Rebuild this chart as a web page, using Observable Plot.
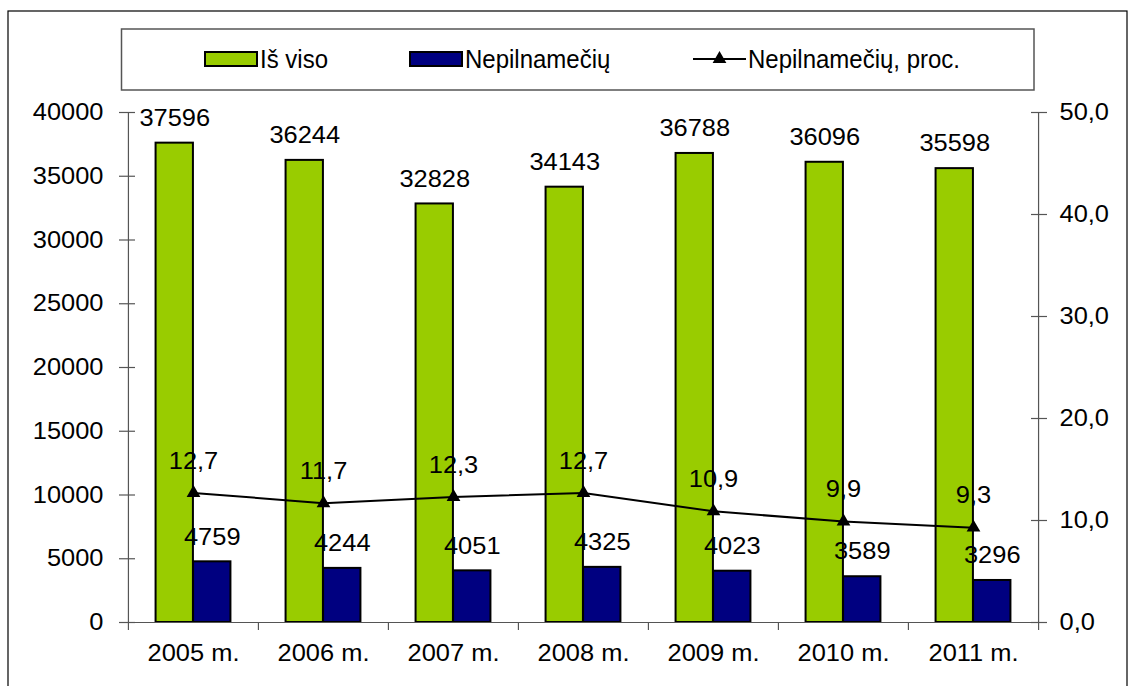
<!DOCTYPE html>
<html>
<head>
<meta charset="utf-8">
<script src="https://cdn.jsdelivr.net/npm/d3@7"></script>
<script src="https://cdn.jsdelivr.net/npm/@observablehq/plot@0.6"></script>
<style>
  body { margin: 0; background: #fff; }
  #chart svg { display: block; }
</style>
</head>
<body>
<div id="chart"></div>
<script>
// ---- data ----
const years = ["2005 m.", "2006 m.", "2007 m.", "2008 m.", "2009 m.", "2010 m.", "2011 m."];
const totals = [37596, 36244, 32828, 34143, 36788, 36096, 35598];
const minors = [4759, 4244, 4051, 4325, 4023, 3589, 3296];
const shares = [12.7, 11.7, 12.3, 12.7, 10.9, 9.9, 9.3];
const leftTicks = [0, 5000, 10000, 15000, 20000, 25000, 30000, 35000, 40000];
const rightTicks = [0, 10, 20, 30, 40, 50];
const seriesNames = ["Iš viso", "Nepilnamečių", "Nepilnamečių, proc."];
const seriesColors = ["#99cc00", "#000080", "#000000"];

const rows = years.map((year, i) => ({year, total: totals[i], minor: minors[i], share: shares[i]}));
const RATIO = 40000 / 50; // right axis (0–50) mapped onto left axis (0–40000)
const fmt1 = v => v.toFixed(1).replace(".", ",");

const W = 1136, H = 686, mL = 127, mR = 98, mT = 112, mB = 64;
const band = (W - mL - mR) / years.length;
const half = band / 2;
const barW = 37.5;
const FONT = "'Liberation Sans', Arial, sans-serif";
const axisColor = "#555";
const STRETCH = 1.06;
const TRI_R = 5.1;

const plot = Plot.plot({
  width: W, height: H,
  marginLeft: mL, marginRight: mR, marginTop: mT, marginBottom: mB,
  style: {fontFamily: FONT, fontSize: "24px", color: "black", background: "white", overflow: "visible"},
  x: {type: "band", domain: years, padding: 0, paddingInner: 0, paddingOuter: 0, axis: null, label: null},
  y: {domain: [0, 40000], axis: null, label: null},
  marks: [
    // axis lines
    Plot.ruleX([years[0]], {x: d => d, y1: 0, y2: 40000, dx: -half, stroke: axisColor, strokeWidth: 1.2}),
    Plot.ruleX([years[years.length - 1]], {x: d => d, y1: 0, y2: 40000, dx: half, stroke: axisColor, strokeWidth: 1.2}),
    // left axis ticks & labels
    Plot.axisY({ticks: leftTicks, tickSize: 16, dx: 8, text: null, label: null, stroke: axisColor, strokeWidth: 1.2}),
    Plot.axisY({ticks: leftTicks, tickSize: 0, tickPadding: 24, label: null, tickFormat: d => String(d), fontSize: 24, fill: "black"}),
    // right axis ticks & labels
    Plot.axisY({anchor: "right", ticks: rightTicks.map(v => v * RATIO), tickSize: 16, dx: -8, text: null, label: null, stroke: axisColor, strokeWidth: 1.2}),
    Plot.axisY({anchor: "right", ticks: rightTicks.map(v => v * RATIO), tickSize: 0, tickPadding: 21, label: null,
      tickFormat: d => fmt1(d / RATIO), fontSize: 24, fill: "black"}),
    // x axis ticks at band boundaries & labels
    Plot.axisX({ticks: years, tickSize: 8, dx: -half, text: null, label: null, stroke: axisColor, strokeWidth: 1.2}),
    Plot.axisX({ticks: [years[years.length - 1]], tickSize: 8, dx: half, text: null, label: null, stroke: axisColor, strokeWidth: 1.2}),
    Plot.axisX({ticks: years, tickSize: 0, tickPadding: 21, label: null, fontSize: 24, fill: "black"}),
    // bars
    Plot.barY(rows, {x: "year", y: "total", fill: seriesColors[0], stroke: "black", strokeWidth: 2,
      insetLeft: half - barW, insetRight: half}),
    Plot.barY(rows, {x: "year", y: "minor", fill: seriesColors[1], stroke: "black", strokeWidth: 2,
      insetLeft: half, insetRight: half - barW}),
    Plot.ruleY([0], {stroke: axisColor, strokeWidth: 1.2}),
    // percentage line
    Plot.lineY(rows, {x: "year", y: d => d.share * RATIO, stroke: seriesColors[2], strokeWidth: 2}),
    Plot.dot(rows, {x: "year", y: d => d.share * RATIO, symbol: "triangle", fill: "black", r: TRI_R}),
    // value labels
    Plot.text(rows, {x: "year", y: "total", text: d => String(d.total), dx: -(barW / 2), dy: -25, fontSize: 24, fill: "black"}),
    Plot.text(rows, {x: "year", y: "minor", text: d => String(d.minor), dx: barW / 2, dy: -25, fontSize: 24, fill: "black"}),
    Plot.text(rows, {x: "year", y: d => d.share * RATIO, text: d => fmt1(d.share), dy: -32, fontSize: 24, fill: "black"})
  ]
});

document.getElementById("chart").appendChild(plot);

// slight horizontal stretch of glyphs around their anchor, to match the reference's wide text
d3.select(plot).selectAll("text").each(function () {
  const t = this.getAttribute("transform");
  if (t) {
    this.setAttribute("transform", t + ` scale(${STRETCH},1)`);
  } else {
    const x = +(this.getAttribute("x") || 0), y = +(this.getAttribute("y") || 0);
    this.removeAttribute("x"); this.removeAttribute("y");
    this.setAttribute("transform", `translate(${x},${y}) scale(${STRETCH},1)`);
  }
});

// ---- frame & legend ----
const svg = d3.select(plot);
svg.append("rect").attr("x", 8).attr("y", 11).attr("width", 1119).attr("height", 690)
  .attr("fill", "none").attr("stroke", "black").attr("stroke-width", 1.2);
const lg = svg.append("g").attr("font-family", FONT).attr("font-size", 24).attr("text-anchor", "start");
lg.append("rect").attr("x", 121.5).attr("y", 29).attr("width", 912.5).attr("height", 61)
  .attr("fill", "white").attr("stroke", "#555").attr("stroke-width", 1.5);
const legendItems = [
  {kind: "rect", x: 205, tx: 260},
  {kind: "rect", x: 410, tx: 465},
  {kind: "line", x: 693, tx: 748}
];
const ly = 59;
legendItems.forEach((it, i) => {
  if (it.kind === "rect") {
    lg.append("rect").attr("x", it.x).attr("y", ly - 7).attr("width", 52).attr("height", 14)
      .attr("fill", seriesColors[i]).attr("stroke", "black").attr("stroke-width", 2);
  } else {
    lg.append("line").attr("x1", it.x).attr("x2", it.x + 53).attr("y1", ly).attr("y2", ly)
      .attr("stroke", "black").attr("stroke-width", 2);
    lg.append("path").attr("d", d3.symbol(d3.symbolTriangle, Math.PI * TRI_R * TRI_R)())
      .attr("transform", `translate(${it.x + 26.5},${ly})`).attr("fill", "black");
  }
  lg.append("text").attr("transform", `translate(${it.tx},${ly}) scale(1.0,1.05)`).attr("dy", "0.35em")
    .attr("text-anchor", "start").attr("fill", "black").text(seriesNames[i]);
});
</script>
</body>
</html>
